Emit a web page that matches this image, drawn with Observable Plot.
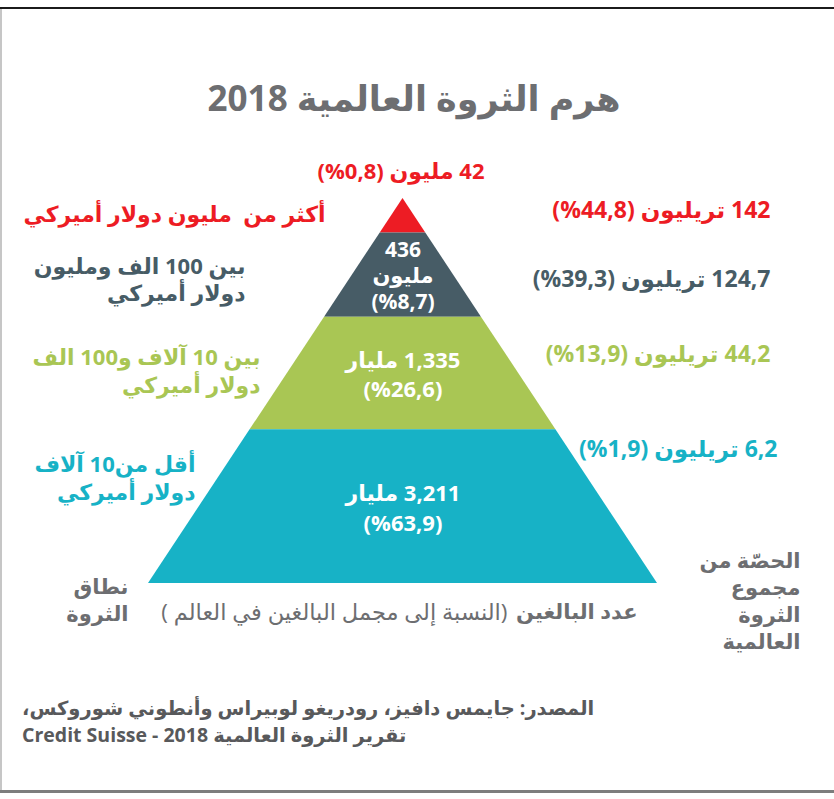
<!DOCTYPE html>
<html lang="ar">
<head>
<meta charset="utf-8">
<script src="https://cdn.jsdelivr.net/npm/d3@7"></script>
<script src="https://cdn.jsdelivr.net/npm/@observablehq/plot@0.6"></script>
<style>
  html, body { margin: 0; padding: 0; background: #fff; }
  #page { position: relative; width: 834px; height: 799px; overflow: hidden; background: #fff;
          font-family: "Open Sans", "DejaVu Sans", sans-serif; }
  #topline { position: absolute; left: 0; top: 7px; width: 834px; height: 2px; background: #1b1b1b; }
  #leftline { position: absolute; left: 0; top: 9px; width: 2px; height: 782px; background: #c6c6c6; }
  #bottomline { position: absolute; left: 0; top: 790px; width: 834px; height: 3px; background: #7d7d7d; }
  #title { position: absolute; left: -3px; top: 75px; width: 834px; text-align: center; direction: rtl;
           font-weight: bold; font-size: 35px; color: #6d6e71; line-height: 46px; }
  #chart { position: absolute; left: 0; top: 140px; direction: rtl; }
  #caption { position: absolute; left: 22px; top: 694px; width: 780px; direction: rtl; text-align: left;
             font-weight: bold; font-size: 19.5px; line-height: 27px; color: #58595b; }
</style>
</head>
<body>
<div id="page">
  <div id="topline"></div>
  <div id="leftline"></div>
  <div id="bottomline"></div>
  <div id="title">هرم الثروة العالمية 2018</div>
  <div id="chart"></div>
  <div id="caption">المصدر: جايمس دافيز، رودريغو لوبيراس وأنطوني شوروكس،<br>تقرير الثروة العالمية 2018 - Credit Suisse</div>
</div>
<script>
// ---- data (Credit Suisse Global Wealth Pyramid 2018) ----
const wealthRanges = [
  "أكثر من  مليون دولار أميركي",
  "بين 100 الف ومليون\nدولار أميركي",
  "بين 10 آلاف و100 الف\nدولار أميركي",
  "أقل من10 آلاف\nدولار أميركي"
];
const adultsCount = [42, 436, 1.335, 3.211];
const adultsUnit = ["مليون", "مليون", "مليار", "مليار"];
const adultsShare = [0.8, 8.7, 26.6, 63.9];      // % of world adults
const wealthTrillion = [142, 124.7, 44.2, 6.2];  // USD trillion
const wealthShare = [44.8, 39.3, 13.9, 1.9];     // % of world wealth
const tierColors = ["#ed1c24", "#475c66", "#a9c654", "#17b2c6"];

const axisLeftLabel = "نطاق\nالثروة";
const axisRightLabel = "الحصّة من\nمجموع\nالثروة\nالعالمية";
const axisBottomBold = "عدد البالغين";
const axisBottomNote = "(النسبة إلى مجمل البالغين في العالم )";

// ---- helpers ----
const fmt = v => String(v).replace(".", ",");
// percent in parentheses on its own line (number stays European)
const pctAlone = v => "(%" + fmt(v) + ")";
// percent in parentheses following Arabic words (number becomes Arabic-number class)
const pctInline = v => "(" + fmt(v) + "%)";

// Pyramid is area-proportional: depth from apex = sqrt(cumulative share of adults)
let cum = 0;
const tiers = adultsShare.map((s, i) => {
  const top = Math.sqrt(cum / 100);
  cum += s;
  const bottom = Math.sqrt(Math.min(cum, 100) / 100);
  return {
    i, top, bottom, mid: (top + bottom) / 2, color: tierColors[i],
    range: wealthRanges[i],
    adults: fmt(adultsCount[i]) + " " + adultsUnit[i],
    wealth: fmt(wealthTrillion[i]) + " تريليون " + pctInline(wealthShare[i])
  };
});
const shape = tiers.flatMap(t => [
  {tier: t.i, depth: t.top, color: t.color},
  {tier: t.i, depth: t.bottom, color: t.color}
]);

// layout (style offsets, px). Under direction:rtl, text-anchor "start" is the right edge.
const RIGHT = "start", LEFT = "end";
const FONT = "'Open Sans', 'DejaVu Sans', sans-serif";
const leftDx = [325, 245, 260, 195];
const leftDy = [-3, 3.5, -3, -30];
const rightDx = [-64, -64, -64, -57];
const rightDy = [-5, 4.5, -19, -57];

const marks = [
  Plot.areaX(shape, {y: "depth", x1: d => -d.depth, x2: d => d.depth, z: "tier", fill: "color", curve: "linear"})
];

// top tier: adults above apex
marks.push(Plot.text([tiers[0]], {x: () => 0, y: d => d.top, text: d => d.adults + " " + pctInline(adultsShare[0]),
  dy: -27, dx: -2, fill: tierColors[0], fontSize: 22, fontWeight: "bold", fontFamily: FONT, textAnchor: "middle"}));

// inside labels
marks.push(Plot.text([tiers[1]], {x: () => 0, y: d => d.mid,
  text: d => String(adultsCount[1]) + "\n" + adultsUnit[1] + "\n" + pctAlone(adultsShare[1]),
  fill: "white", fontSize: 21, fontWeight: "bold", fontFamily: FONT, textAnchor: "middle", lineAnchor: "middle", lineHeight: 1.24}));
marks.push(Plot.text(tiers.slice(2), {x: () => 0, y: d => d.mid,
  text: d => d.adults + "\n" + pctAlone(adultsShare[d.i]),
  fill: "white", fontSize: 22, fontWeight: "bold", fontFamily: FONT, textAnchor: "middle", lineAnchor: "middle", lineHeight: 1.33}));

// left (wealth range) and right (wealth) labels
tiers.forEach((t, i) => {
  marks.push(Plot.text([t], {y: d => d.mid, text: d => d.range, frameAnchor: "left", dx: leftDx[i], dy: leftDy[i],
    fill: t.color, fontSize: 22, fontWeight: "bold", fontFamily: FONT, textAnchor: RIGHT, lineAnchor: "middle", lineHeight: 1.27}));
  marks.push(Plot.text([t], {y: d => d.mid, text: d => d.wealth, frameAnchor: "right", dx: rightDx[i], dy: rightDy[i],
    fill: t.color, fontSize: 23, fontWeight: "bold", fontFamily: FONT, textAnchor: RIGHT, lineAnchor: "middle"}));
});

// axis-like captions along the base
marks.push(Plot.text([1], {y: d => d, text: () => axisLeftLabel, frameAnchor: "left", dx: 128, dy: 15.5,
  fill: "#6d6e71", fontSize: 21, fontWeight: "bold", fontFamily: FONT, textAnchor: RIGHT, lineAnchor: "middle", lineHeight: 1.29}));
marks.push(Plot.text([1], {y: d => d, text: () => axisRightLabel, frameAnchor: "right", dx: -34, dy: 16,
  fill: "#6d6e71", fontSize: 21, fontWeight: "bold", fontFamily: FONT, textAnchor: RIGHT, lineAnchor: "middle", lineHeight: 1.29}));
marks.push(Plot.text([1], {y: d => d, text: () => axisBottomBold, frameAnchor: "left", dx: 637, dy: 29,
  fill: "#6d6e71", fontSize: 21, fontWeight: "bold", fontFamily: FONT, textAnchor: RIGHT, lineAnchor: "middle"}));
marks.push(Plot.text([1], {y: d => d, text: () => axisBottomNote, frameAnchor: "left", dx: 507, dy: 29,
  fill: "#6d6e71", fontSize: 22.5, fontWeight: "normal", fontFamily: FONT, textAnchor: RIGHT, lineAnchor: "middle"}));

const chart = Plot.plot({
  width: 834,
  height: 540,
  margin: 0,
  x: {domain: [-1, 1], range: [148, 657], axis: null},
  y: {domain: [0, 1], range: [58, 443], axis: null},
  color: {type: "identity"},
  style: {background: "transparent", overflow: "visible"},
  marks
});
chart.style.direction = "rtl";
document.getElementById("chart").appendChild(chart);
</script>
</body>
</html>
